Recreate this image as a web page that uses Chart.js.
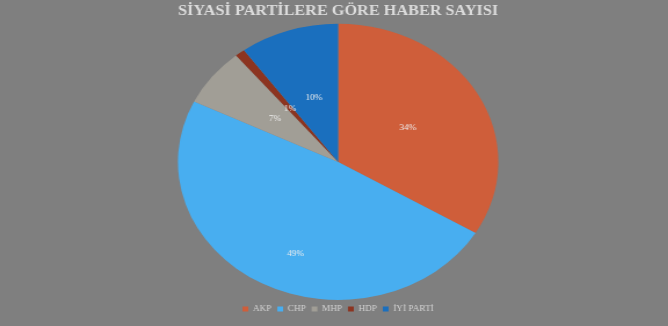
<!DOCTYPE html>
<html>
<head>
<meta charset="utf-8">
<script src="https://cdn.jsdelivr.net/npm/chart.js@4"></script>
<style>
  html, body { margin: 0; padding: 0; background: #7f7f7f; overflow: hidden; }
  #wrap {
    width: 576px; height: 326px;
    transform: scaleX(1.16); transform-origin: 0 0;
  }
</style>
</head>
<body>
<div id="wrap"><canvas id="pieChart"></canvas></div>
<script>
// data
const parties = ['AKP', 'CHP', 'MHP', 'HDP', 'İYİ PARTİ'];
const newsShare = [33.6, 48.6, 6.8, 1.0, 10.0];
const sliceColors = ['#cf5e3a', '#48aef0', '#a19e96', '#8c3420', '#1a6fbe'];
const labelRadius = [0.5, 0.72, 0.5, 0.49, 0.49];

// percentage labels inside the slices
const sliceLabels = {
    id: 'sliceLabels',
    afterDatasetsDraw(chart) {
        const ctx = chart.ctx;
        const meta = chart.getDatasetMeta(0);
        const values = chart.data.datasets[0].data;
        const total = values.reduce((a, b) => a + b, 0);
        ctx.save();
        ctx.font = '8px "Liberation Serif", serif';
        ctx.fillStyle = '#eeeeee';
        ctx.textAlign = 'center';
        ctx.textBaseline = 'middle';
        meta.data.forEach(function (arc, i) {
            const p = arc.getProps(['x', 'y', 'startAngle', 'endAngle', 'outerRadius'], true);
            // CHP label sits a little nearer the lower edge, as in the source
            const mid = (p.startAngle + p.endAngle) / 2 - (i === 1 ? 0.12 : 0);
            const r = p.outerRadius * labelRadius[i];
            const pct = Math.round(values[i] / total * 100) + '%';
            ctx.fillText(pct, p.x + Math.cos(mid) * r, p.y + Math.sin(mid) * r);
        });
        ctx.restore();
    }
};

new Chart(document.getElementById('pieChart'), {
    type: 'pie',
    data: {
        labels: parties,
        datasets: [{
            data: newsShare,
            backgroundColor: sliceColors,
            borderWidth: 0
        }]
    },
    options: {
        responsive: true,
        maintainAspectRatio: false,
        animation: false,
        layout: { padding: { left: 7, top: 0, bottom: 3 } },
        plugins: {
            title: {
                display: true,
                text: 'SİYASİ PARTİLERE GÖRE HABER SAYISI',
                color: '#dcdcdc',
                font: { family: '"Liberation Serif", serif', size: 14, weight: 'bold' },
                padding: { top: 3, bottom: 4 }
            },
            legend: {
                position: 'bottom',
                labels: {
                    color: '#d4d4d4',
                    font: { family: '"Liberation Serif", serif', size: 8 },
                    boxWidth: 5,
                    boxHeight: 5,
                    padding: 5
                }
            },
            tooltip: { enabled: false }
        }
    },
    plugins: [sliceLabels]
});
</script>
</body>
</html>
